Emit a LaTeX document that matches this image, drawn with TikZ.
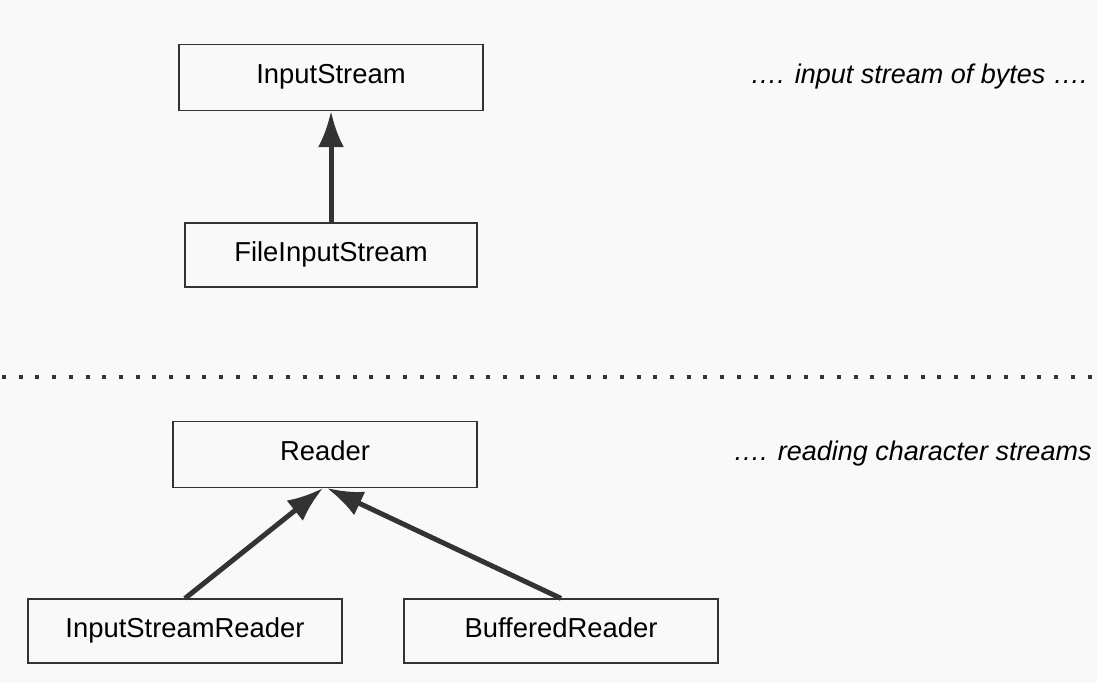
\documentclass[tikz,border=0pt]{standalone}
\usepackage{fontspec}
\setmainfont{Liberation Sans}
\usetikzlibrary{arrows.meta}
\definecolor{bg}{RGB}{249,249,249}
\definecolor{ink}{RGB}{51,51,51}
\tikzset{
	cls/.style={draw=ink,line width=0.6pt,fill=bg,inner sep=0pt,minimum height=33pt,text height=10pt,text depth=3.5pt,font=\fontsize{13.7}{16}\selectfont},
	note/.style={font=\fontsize{13.5}{16}\selectfont\itshape,inner sep=0pt,text height=10pt,text depth=3.5pt},
	inherit/.style={->,draw=ink,line width=2.5pt}
}
\begin{document}
\begin{tikzpicture}[x=0.5pt,y=-0.5pt,>={Latex[length=18pt,width=13pt]}]
	\fill[bg] (0,0) rectangle (1097,683);
	\useasboundingbox (0,0) rectangle (1097,683);
	%byte streams
	\node[cls,minimum width=152pt] (is) at (331,77.5) {InputStream};
	\node[cls,minimum width=146pt,minimum height=32pt] (fis) at (331,255) {FileInputStream};
	\node[note,anchor=west] (bytes) at (750,77) {…. input stream of bytes ….};
	\draw[inherit] (fis.north)--(is.south);
	%separator
	\coordinate (sepl) at (2,377);
	\coordinate (sepr) at (1097,377);
	\draw[ink,line width=2pt,dash pattern=on 2pt off 6.35pt] (sepl)--(sepr);
	%character streams
	\node[cls,minimum width=152pt] (rd) at (325,454.5) {Reader};
	\node[cls,minimum width=157pt,minimum height=32pt] (isr) at (185,631) {InputStreamReader};
	\node[cls,minimum width=157pt,minimum height=32pt] (br) at (561,631) {BufferedReader};
	\node[note,anchor=west] (chars) at (733,454) {…. reading character streams};
	\draw[inherit] (isr.north)--([xshift=-1pt]rd.south);
	\draw[inherit] (br.north)--([xshift=1pt]rd.south);
\end{tikzpicture}
\end{document}
